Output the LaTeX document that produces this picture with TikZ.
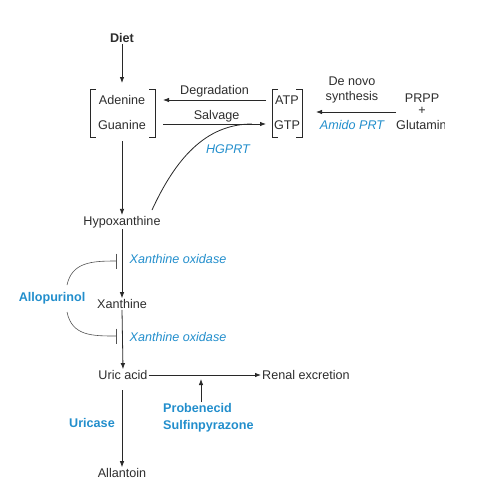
\documentclass[tikz,border=0pt]{standalone}
\usepackage{fontspec}
\setmainfont{Liberation Sans}
\usetikzlibrary{positioning, calc, arrows.meta}
\definecolor{clText}{RGB}{ 45, 45, 45}
\definecolor{clBlue}{RGB}{ 34,142,204}
\definecolor{clLine}{RGB}{ 40, 40, 40}
\tikzset{
  %% plain metabolite label
  met/.style={
    font=\fontsize{12.6}{15}\selectfont, text=clText,
    inner sep=1pt, align=center
  },
  %% enzyme / drug labels
  enz/.style ={met, text=clBlue, font=\fontsize{12.6}{15}\selectfont\itshape},
  drug/.style={met, text=clBlue, font=\fontsize{12.6}{17}\selectfont\bfseries, align=left},
  %% arrows
  arr/.style={
    -{Latex[length=6pt, width=4.5pt]},
    line width=0.8pt, color=clLine
  },
  inhib/.style={
    -{Bar[width=15pt, line width=0.9pt]},
    line width=0.6pt, color=clLine!80
  },
  brk/.style={line width=0.7pt, color=clLine}
}

\begin{document}
\begin{tikzpicture}[x=1pt, y=-1pt]
\useasboundingbox (0,0) rectangle (477,493);

%% ═══════════════════════════════════════════════════════════════
%%  TOP — Diet and purine bases
%% ═══════════════════════════════════════════════════════════════

\node[met, font=\fontsize{12.6}{15}\selectfont\bfseries] (diet) at (122,38) {Diet};

\node[met] (adenine) at (122,100) {Adenine};
\node[met] (guanine) at (122,125) {Guanine};

%% brackets round Adenine / Guanine
\draw[brk] (96,89) -- (90,89) -- (90,137) -- (96,137);
\draw[brk] (149,89) -- (155,89) -- (155,137) -- (149,137);
\coordinate (baseE) at (163,100);
\coordinate (baseS) at (122,141);

%% ═══════════════════════════════════════════════════════════════
%%  NUCLEOTIDES — ATP / GTP and de novo synthesis
%% ═══════════════════════════════════════════════════════════════

\node[met] (atp) at (287,100) {ATP};
\node[met] (gtp) at (287,125) {GTP};

\draw[brk] (278,89) -- (272,89) -- (272,137) -- (278,137);
\draw[brk] (296,89) -- (302,89) -- (302,137) -- (296,137);
\coordinate (nucW) at (266,100);
\coordinate (nucE) at (316,112);

\node[met, font=\fontsize{12.6}{14.5}\selectfont] (denovo) at (352,90) {De novo\\synthesis};
\node[enz] (amido) at (352,125) {Amido PRT};

\node[met] (prpp) at (422,98) {PRPP};
\node[met] (plus) at (422,111) {+};
%% the source figure is cut off at its right edge
\begin{scope}
  \clip (0,0) rectangle (444,493);
  \node[met, anchor=west] (glut) at (395,125) {Glutamine};
\end{scope}
\coordinate (prppW) at (396,112);

%% ═══════════════════════════════════════════════════════════════
%%  DEGRADATION PATH
%% ═══════════════════════════════════════════════════════════════

\node[met] (hypox) at (122,222) {Hypoxanthine};
\node[met] (xanth) at (122,304) {Xanthine};
\node[met] (uric)  at (123,375) {Uric acid};
\node[met] (allan) at (122,473) {Allantoin};
\node[met] (renal) at (306,375) {Renal excretion};

\node[enz] (xo1) at (178,259) {Xanthine oxidase};
\node[enz] (xo2) at (178,337) {Xanthine oxidase};
\node[enz] (hgprt) at (228,149) {HGPRT};

\node[drug, font=\fontsize{12.6}{15}\selectfont\bfseries] (allo) at (52,298) {Allopurinol};
\node[drug, font=\fontsize{12.6}{15}\selectfont\bfseries] (uricase) at (92,423) {Uricase};
\node[drug, anchor=north west] (probe) at (162,402) {Probenecid\\Sulfinpyrazone};

%% ═══════════════════════════════════════════════════════════════
%%  ARROWS
%% ═══════════════════════════════════════════════════════════════

\draw[arr] (diet.south) -- (122,83);
\draw[arr] (nucW) -- node[met, above=1pt]{Degradation} (baseE);
\draw[arr] (163,124) -- node[met, above=0pt, pos=0.52]{Salvage} (266,124);
\draw[arr] (prppW) -- (nucE);

%% HGPRT salvage branch from hypoxanthine
\draw[line width=0.8pt, clLine] (152,210) .. controls (175,160) and (205,124) .. (252,124);

\draw[arr] (baseS) -- (hypox.north);
\draw[arr] (hypox.south) -- (xanth.north);
\draw[arr] (xanth.south) -- (uric.north);
\draw[arr] (122,390) -- (allan.north);
\draw[arr] (uric.east) -- (renal.west);
\draw[arr] (201,402) -- (201,379);

%% allopurinol blocks both xanthine oxidase steps
\draw[inhib] (67,285) .. controls (72,262) and (92,261) .. (117,261);
\draw[inhib] (67,312) .. controls (72,336) and (92,336) .. (117,336);

\end{tikzpicture}
\end{document}
